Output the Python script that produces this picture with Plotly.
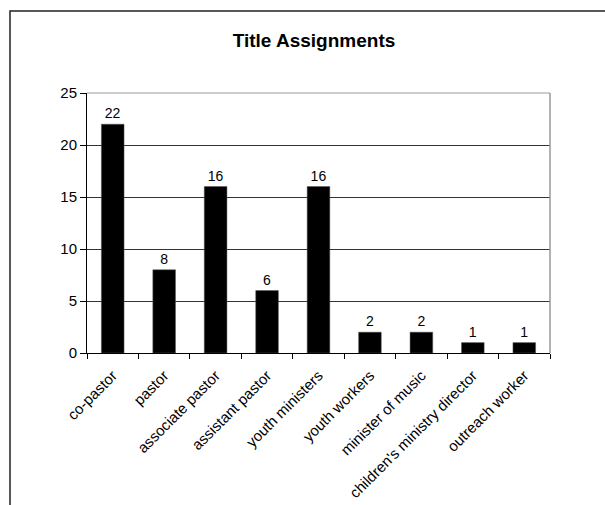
import plotly.graph_objects as go

categories = ["co-pastor", "pastor", "associate pastor", "assistant pastor",
              "youth ministers", "youth workers", "minister of music",
              "children's ministry director", "outreach worker"]
values = [22, 8, 16, 6, 16, 2, 2, 1, 1]
y_ticks = [0, 5, 10, 15, 20, 25]

W, H = 605, 505
L, R, T, B = 87, 550, 93, 353

fig = go.Figure(go.Bar(
    x=categories, y=values,
    marker=dict(color="black", line=dict(color="#555", width=0.5)),
    text=[str(v) for v in values], textposition="outside",
    textfont=dict(family="Arial, Liberation Sans", size=14, color="black"),
    cliponaxis=False,
))

fig.update_layout(
    width=W, height=H,
    margin=dict(l=L, r=W - R, t=T, b=H - B, pad=0),
    paper_bgcolor="white", plot_bgcolor="white",
    font=dict(family="Arial, Liberation Sans", size=14, color="black"),
    bargap=0.56,
    showlegend=False,
    title=dict(text="<b>Title Assignments</b>", x=314 / W, xref="container",
               xanchor="center", y=1 - 40 / H, yref="container", yanchor="middle",
               font=dict(size=19, color="black")),
    xaxis=dict(tickangle=-45, tickson="boundaries", ticks="outside", ticklen=5,
               tickcolor="black", showline=True, linecolor="black", linewidth=1,
               showgrid=False, tickfont=dict(size=15), ticklabelstandoff=7,
               automargin=False),
    yaxis=dict(range=[0, 25], tickvals=y_ticks, ticks="outside", ticklen=6,
               tickcolor="black", showline=True, linecolor="black", linewidth=1,
               showgrid=True, gridcolor="#333", gridwidth=1, zeroline=False,
               tickfont=dict(size=15), automargin=False),
    shapes=[
        dict(type="line", xref="paper", yref="paper", x0=0, x1=1, y0=1, y1=1,
             line=dict(color="#999", width=1), layer="above"),
        dict(type="line", xref="paper", yref="paper", x0=1, x1=1, y0=0, y1=1,
             line=dict(color="#999", width=1.5), layer="above"),
        dict(type="rect", xref="paper", yref="paper",
             x0=(10 - L) / (R - L), x1=1.5,
             y0=-1.0, y1=(B - 11) / (B - T),
             line=dict(color="#222", width=1.5), fillcolor="rgba(0,0,0,0)"),
    ],
)

fig.write_html("out.html")
